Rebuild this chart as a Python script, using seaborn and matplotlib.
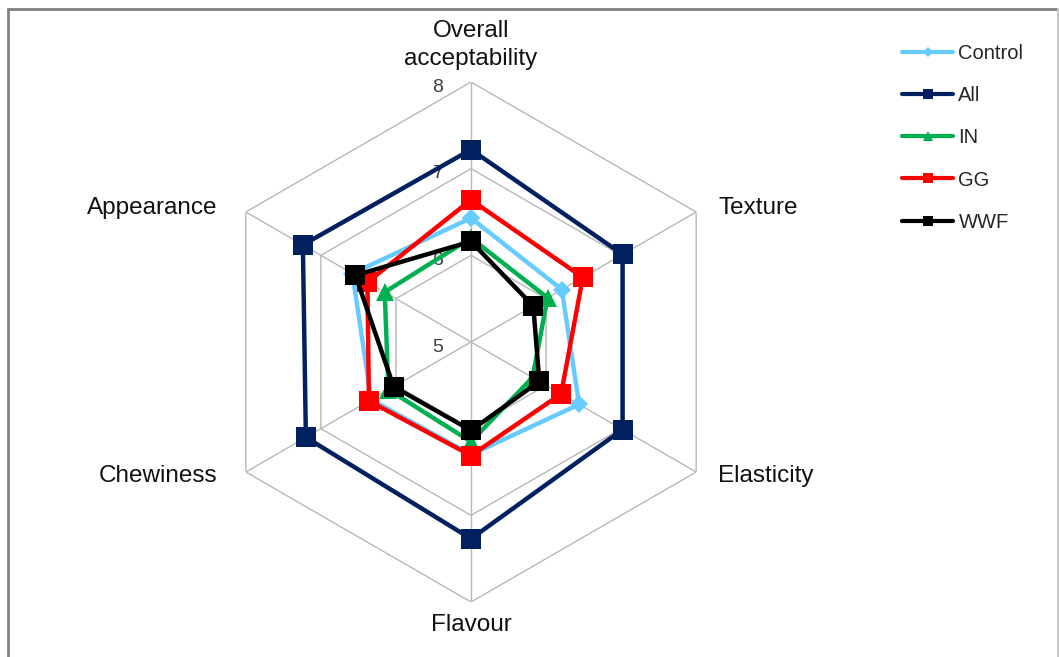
import numpy as np
import pandas as pd
import matplotlib
matplotlib.use("Agg")
import matplotlib.pyplot as plt
from matplotlib.lines import Line2D
import seaborn as sns

# Sensory attributes, clockwise from the top
categories = ["Overall\nacceptability", "Texture", "Elasticity", "Flavour", "Chewiness", "Appearance"]

# Mean sensory scores per formulation
control = [6.43, 6.21, 6.44, 6.30, 6.33, 6.58]
all_mix = [7.22, 7.02, 7.02, 7.27, 7.20, 7.24]
inulin = [6.20, 6.02, 5.82, 6.15, 6.10, 6.15]
gg = [6.64, 6.49, 6.20, 6.31, 6.36, 6.38]
wwf = [6.16, 5.83, 5.91, 6.02, 6.03, 6.54]

series_names = ["Control", "All", "IN", "GG", "WWF"]
series_values = [control, all_mix, inulin, gg, wwf]

radial_ticks = [5, 6, 7, 8]

styles = {
    "Control": dict(color="#66CCFF", marker="D", ms=9),
    "All": dict(color="#002060", marker="s", ms=14),
    "IN": dict(color="#00B050", marker="^", ms=13),
    "GG": dict(color="#FF0000", marker="s", ms=14),
    "WWF": dict(color="#000000", marker="s", ms=14),
}

sns.set_theme(style="white")
plt.rcParams["font.family"] = ["Liberation Sans", "DejaVu Sans"]

W, H = 1059, 657
fig = plt.figure(figsize=(W / 100, H / 100), dpi=100)
fig.patch.set_facecolor("white")

cx, cy, R = 471, 342, 260
ax = fig.add_axes([(cx - R) / W, (H - cy - R) / H, 2 * R / W, 2 * R / H], projection="polar")
ax.set_theta_zero_location("N")
ax.set_theta_direction(-1)
ax.set_ylim(radial_ticks[0], radial_ticks[-1])
ax.grid(False)
ax.spines["polar"].set_visible(False)
ax.set_xticks([])
ax.set_yticks([])
ax.set_facecolor("none")

n = len(categories)
theta = np.linspace(0, 2 * np.pi, n, endpoint=False)
theta_closed = np.append(theta, 2 * np.pi)

# Hexagonal grid rings and spokes
grid_kw = dict(color="#b8b8b8", lw=1.0, zorder=1)
for r in radial_ticks[1:]:
    ax.plot(theta_closed, [r] * (n + 1), **grid_kw)
for t in theta:
    ax.plot([t, t], [radial_ticks[0], radial_ticks[-1]], **grid_kw)

# Radial tick labels along the top spoke
for r in radial_ticks:
    ax.annotate(str(r), xy=(0, r), xytext=(-33, -5), textcoords="offset pixels",
                ha="center", va="center", fontsize=14, color="#404040", zorder=2)

# Series
handles = []
for name, vals in zip(series_names, series_values):
    st = styles[name]
    df = pd.DataFrame({"theta": theta_closed, "score": list(vals) + [vals[0]]})
    sns.lineplot(data=df, x="theta", y="score", ax=ax, sort=False, estimator=None,
                 color=st["color"], lw=3.2, marker=st["marker"], markersize=st["ms"],
                 markeredgewidth=0, markeredgecolor=st["color"], legend=False, zorder=3)
    handles.append(Line2D([], [], color=st["color"], lw=3, marker=st["marker"],
                          markersize=st["ms"] * 0.55, markeredgewidth=0, label=name))
ax.set_xlabel("")
ax.set_ylabel("")

# Category labels around the outer ring
label_pos = [
    dict(off=(0, 37), ha="center", va="center"),
    dict(off=(22, 4), ha="left", va="center"),
    dict(off=(22, -4), ha="left", va="center"),
    dict(off=(0, -23), ha="center", va="center"),
    dict(off=(-28, -4), ha="right", va="center"),
    dict(off=(-28, 4), ha="right", va="center"),
]
for t, lab, p in zip(theta, categories, label_pos):
    ax.annotate(lab, xy=(t, radial_ticks[-1]), xytext=p["off"], textcoords="offset pixels",
                ha=p["ha"], va=p["va"], fontsize=17.5, color="#111111",
                linespacing=1.4, annotation_clip=False)

fig.legend(handles=handles, loc="upper left", bbox_to_anchor=(894 / W, 1 - 36 / H),
           frameon=False, fontsize=14.5, handlelength=2.55, handletextpad=0.25,
           labelspacing=1.15, borderaxespad=0)

# Outer frame
fig.add_artist(Line2D([7.5 / W, 7.5 / W], [0, 1 - 9 / H], transform=fig.transFigure,
                      color="#808080", lw=2))
fig.add_artist(Line2D([7.5 / W, 1], [1 - 9 / H, 1 - 9 / H], transform=fig.transFigure,
                      color="#808080", lw=2))
fig.add_artist(Line2D([1057.5 / W, 1057.5 / W], [0, 1 - 9 / H], transform=fig.transFigure,
                      color="#c8c8c8", lw=1.5))

fig.savefig("out.png", dpi=100)
